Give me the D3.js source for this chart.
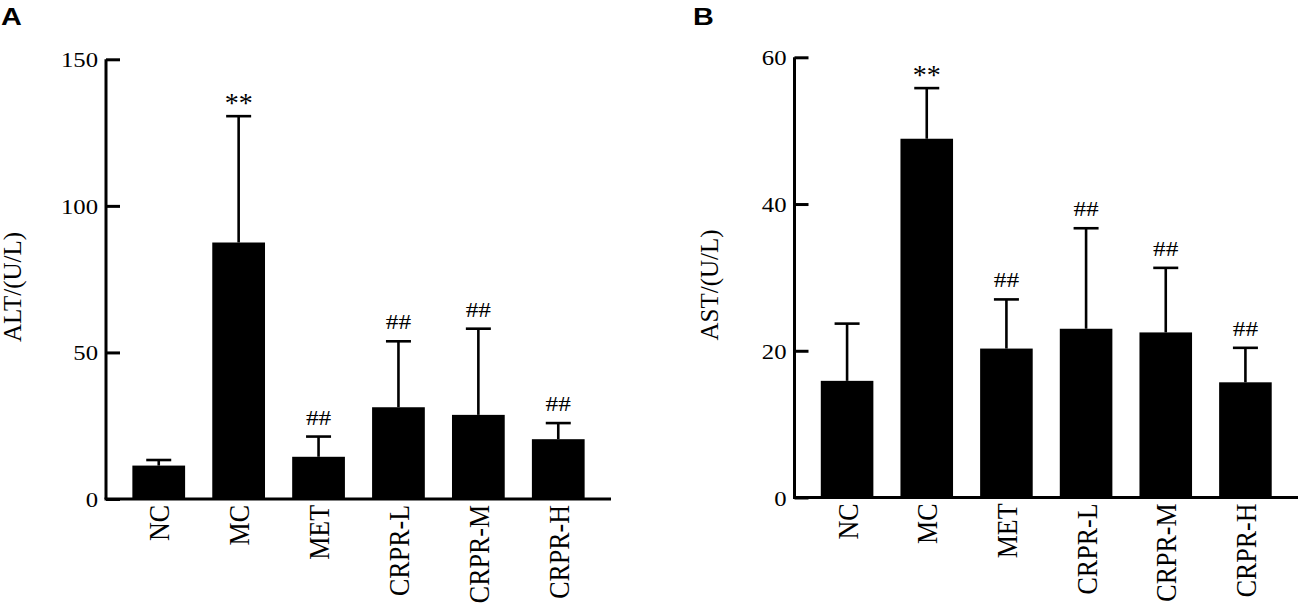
<!DOCTYPE html>
<html lang="en">
<head>
<meta charset="UTF-8">
<title>ALT / AST</title>
<script src="https://cdn.jsdelivr.net/npm/d3@7"></script>
<style>
  body { margin: 0; background: #fff; }
  svg { display: block; }
  .axis path, .axis line { fill: none; stroke: #000; stroke-width: 3px; }
  .axis text { font-family: "Times New Roman", "Liberation Serif", serif; font-size: 21.5px; fill: #000; }
  .xaxis text { font-size: 26px; }
  .ylab { font-family: "Times New Roman", "Liberation Serif", serif; font-size: 25px; fill: #000; text-anchor: middle; }
  .mark { font-family: "Times New Roman", "Liberation Serif", serif; font-size: 22px; fill: #000; text-anchor: middle; }
  .mark.star { font-size: 28px; }
  .panel { font-family: Arial, "Liberation Sans", sans-serif; font-size: 24px; font-weight: bold; fill: #000; }
</style>
</head>
<body>
<script>
// groups
var groups = ["NC", "MC", "MET", "CRPR-L", "CRPR-M", "CRPR-H"];

// ALT (U/L): mean and SD
var altMean = [11.4, 87.5, 14.4, 31.3, 28.7, 20.4];
var altSD   = [1.9, 43.1, 6.9, 22.5, 29.4, 5.5];
var altMarks = ["", "**", "##", "##", "##", "##"];
var altTicks = [0, 50, 100, 150];

// AST (U/L): mean and SD
var astMean = [15.9, 48.9, 20.3, 23.0, 22.5, 15.7];
var astSD   = [7.8, 6.9, 6.7, 13.7, 8.8, 4.7];
var astMarks = ["", "**", "##", "##", "##", "##"];
var astTicks = [0, 20, 40, 60];

var width = 1299, height = 606;
// the source figure's glyphs are a bit wider than tall
var stretch = 1.15;

var svg = d3.select("body").append("svg")
  .attr("width", width)
  .attr("height", height);

function panel(opt) {
  var x = d3.scaleBand()
    .domain(groups)
    .range([opt.x0, opt.x1])
    .paddingInner(0.34)
    .paddingOuter(0.33);

  var y = d3.scaleLinear()
    .domain([0, opt.max])
    .range([opt.y0, opt.y1]);

  var g = svg.append("g");

  var rows = groups.map(function(d, i) {
    return {name: d, mean: opt.mean[i], sd: opt.sd[i], mark: opt.marks[i]};
  });

  function cx(d) { return x(d.name) + x.bandwidth() / 2; }

  // bars
  g.selectAll("rect.bar")
    .data(rows)
    .enter().append("rect")
    .attr("class", "bar")
    .attr("x", function(d) { return x(d.name); })
    .attr("width", x.bandwidth())
    .attr("y", function(d) { return y(d.mean); })
    .attr("height", function(d) { return y(0) - y(d.mean); })
    .attr("fill", "#000");

  // error bars (upper only)
  var cap = 12.5;
  var eb = g.selectAll("g.err")
    .data(rows)
    .enter().append("g")
    .attr("class", "err")
    .attr("stroke", "#000")
    .attr("stroke-width", 2.6);

  eb.append("line")
    .attr("x1", cx)
    .attr("x2", cx)
    .attr("y1", function(d) { return y(d.mean); })
    .attr("y2", function(d) { return y(d.mean + d.sd); });

  eb.append("line")
    .attr("x1", function(d) { return cx(d) - cap; })
    .attr("x2", function(d) { return cx(d) + cap; })
    .attr("y1", function(d) { return y(d.mean + d.sd); })
    .attr("y2", function(d) { return y(d.mean + d.sd); });

  // significance marks
  g.selectAll("text.mark")
    .data(rows.filter(function(d) { return d.mark; }))
    .enter().append("text")
    .attr("class", function(d) { return d.mark === "**" ? "mark star" : "mark"; })
    .attr("transform", function(d) {
      var star = d.mark === "**";
      var ty = y(d.mean + d.sd) - (star ? 4 : 12);
      return "translate(" + cx(d) + "," + ty + ") scale(" + (star ? 1 : stretch) + ",1)";
    })
    .text(function(d) { return d.mark; });

  // y axis, ticks pointing inward
  var yAxis = g.append("g")
    .attr("class", "axis")
    .attr("transform", "translate(" + opt.x0 + ",0)")
    .call(d3.axisLeft(y).tickValues(opt.ticks).tickSizeInner(-14).tickSizeOuter(0).tickPadding(8));
  yAxis.select(".domain").attr("d", "M0," + y(0) + "V" + y(opt.max));
  yAxis.selectAll("text")
    .attr("x", -8 / stretch)
    .attr("dy", "0.35em")
    .attr("transform", "scale(" + stretch + ",1)");

  // x axis
  var xAxis = g.append("g")
    .attr("class", "axis xaxis")
    .attr("transform", "translate(0," + opt.y0 + ")")
    .call(d3.axisBottom(x).tickSize(0).tickSizeOuter(0).tickPadding(0));
  xAxis.select(".domain").attr("d", "M" + (opt.x0 - 1.5) + ",0H" + opt.x1);
  xAxis.selectAll("text")
    .attr("transform", "scale(" + stretch + ",1) rotate(-90)")
    .attr("text-anchor", "end")
    .attr("x", -6)
    .attr("y", 0)
    .attr("dy", "0.35em");

  // y label (baseline position given)
  svg.append("text")
    .attr("class", "ylab")
    .attr("transform", "translate(" + opt.labX + "," + opt.labY + ") rotate(-90)")
    .text(opt.label);

  // panel letter
  svg.append("text")
    .attr("class", "panel")
    .attr("transform", "translate(" + opt.letterX + ",25) scale(1.2,1)")
    .text(opt.letter);
}

panel({
  x0: 106, x1: 611, y0: 499, y1: 59.3, max: 150,
  mean: altMean, sd: altSD, marks: altMarks, ticks: altTicks,
  label: "ALT/(U/L)", labX: 21, labY: 287, letter: "A", letterX: 1
});

panel({
  x0: 794.5, x1: 1298, y0: 497.5, y1: 57.3, max: 60,
  mean: astMean, sd: astSD, marks: astMarks, ticks: astTicks,
  label: "AST/(U/L)", labX: 718, labY: 285, letter: "B", letterX: 693
});
</script>
</body>
</html>
